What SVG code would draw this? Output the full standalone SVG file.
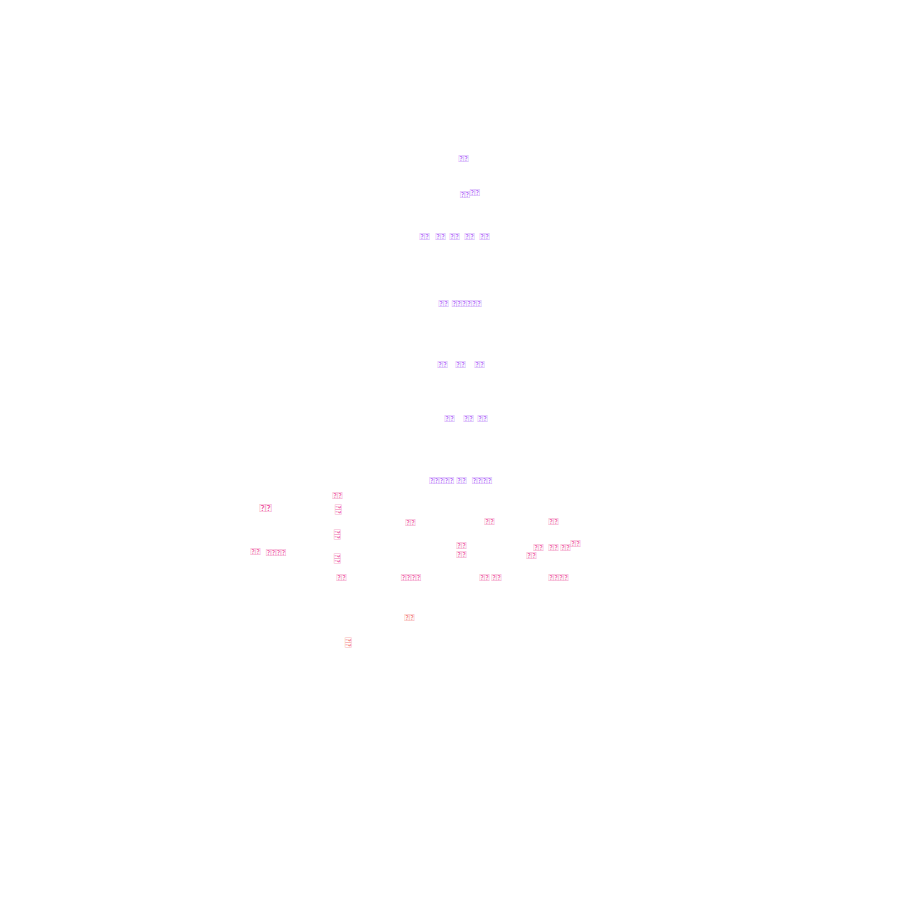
<svg xmlns="http://www.w3.org/2000/svg" width="900" height="900" viewBox="0 0 900 900">
<style>
text{font-family:Lato,"Noto Sans CJK SC",sans-serif;font-size:9.3px;text-anchor:middle}
.p{fill:#a855f7}
.k{fill:#ec4899}
.r{fill:#f26b6b}
.v{dominant-baseline:central}
</style>
<rect width="900" height="900" fill="#ffffff"/>
<g id="upper" class="p">
<text x="463.5" y="161.5">&#xE000;&#xE000;</text>
<text x="469.8" y="197.5">&#xE000;&#xE000;<tspan dy="-1.5">&#xE000;&#xE000;</tspan></text>
<text x="424.5" y="239.8">&#xE000;&#xE000;</text>
<text x="440.5" y="239.8">&#xE000;&#xE000;</text>
<text x="454.5" y="239.8">&#xE000;&#xE000;</text>
<text x="469.5" y="239.8">&#xE000;&#xE000;</text>
<text x="484.5" y="239.8">&#xE000;&#xE000;</text>
<text x="443.5" y="306.8">&#xE000;&#xE000;</text>
<text x="466.5" y="306.8">&#xE000;&#xE000;&#xE000;&#xE000;&#xE000;&#xE000;</text>
<text x="442.5" y="367.8">&#xE000;&#xE000;</text>
<text x="460.5" y="367.8">&#xE000;&#xE000;</text>
<text x="479.5" y="367.8">&#xE000;&#xE000;</text>
<text x="449.5" y="421.8">&#xE000;&#xE000;</text>
<text x="468.5" y="421.8">&#xE000;&#xE000;</text>
<text x="482.5" y="421.8">&#xE000;&#xE000;</text>
<text x="441.5" y="483.8">&#xE000;&#xE000;&#xE000;&#xE000;&#xE000;</text>
<text x="461.5" y="483.8">&#xE000;&#xE000;</text>
<text x="482" y="483.8">&#xE000;&#xE000;&#xE000;&#xE000;</text>
</g>
<g id="lower" class="k">
<text x="265.5" y="511.5" style="font-size:11.5px">&#xE000;&#xE000;</text>
<text x="337.5" y="498.8">&#xE000;&#xE000;</text>
<text class="v" transform="translate(338,509.5) rotate(90)">&#xE000;&#xE000;</text>
<text class="v" transform="translate(337,534.5) rotate(90)">&#xE000;&#xE000;</text>
<text class="v" transform="translate(337,558.5) rotate(90)">&#xE000;&#xE000;</text>
<text x="255.5" y="554.8">&#xE000;&#xE000;</text>
<text x="276" y="555.5">&#xE000;&#xE000;&#xE000;&#xE000;</text>
<text x="341.5" y="580.8">&#xE000;&#xE000;</text>
<text x="410.5" y="525.8">&#xE000;&#xE000;</text>
<text x="489.5" y="524.8">&#xE000;&#xE000;</text>
<text x="553.5" y="524.8">&#xE000;&#xE000;</text>
<text x="461.5" y="548.6">&#xE000;&#xE000;<tspan x="461.5" dy="9.3">&#xE000;&#xE000;</tspan></text>
<text x="538.5" y="550.8">&#xE000;&#xE000;</text>
<text x="553.5" y="550.8">&#xE000;&#xE000;</text>
<text x="565.5" y="550.8">&#xE000;&#xE000;</text>
<text x="575.5" y="546.8">&#xE000;&#xE000;</text>
<text x="531.5" y="558.8">&#xE000;&#xE000;</text>
<text x="411" y="580.8">&#xE000;&#xE000;&#xE000;&#xE000;</text>
<text x="484.5" y="580.8">&#xE000;&#xE000;</text>
<text x="496.5" y="580.8">&#xE000;&#xE000;</text>
<text x="558.5" y="580.8">&#xE000;&#xE000;&#xE000;&#xE000;</text>
</g>
<g id="bottom" class="r">
<text x="409.5" y="620.8">&#xE000;&#xE000;</text>
<text class="v" transform="translate(348,642.5) rotate(90)">&#xE000;&#xE000;</text>
</g>
</svg>
